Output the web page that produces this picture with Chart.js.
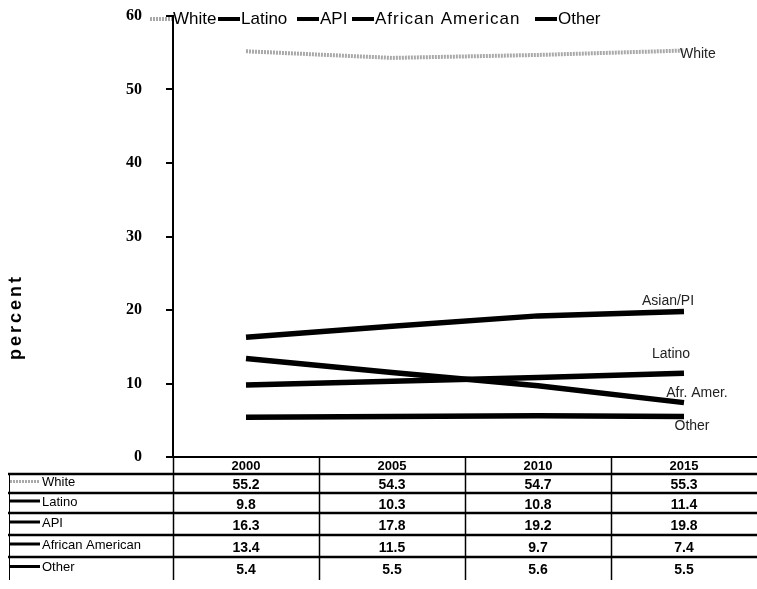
<!DOCTYPE html>
<html>
<head>
<meta charset="utf-8">
<script src="https://cdn.jsdelivr.net/npm/chart.js@4.4.1/dist/chart.umd.min.js"></script>
<style>
  html, body { margin: 0; padding: 0; background: #fff; }
  #wrap { width: 757px; height: 589px; }
</style>
</head>
<body>
<div id="wrap"><canvas id="c" width="757" height="589"></canvas></div>
<script>
// data (table values)
const years = ['2000', '2005', '2010', '2015'];
const seriesNames = ['White', 'Latino', 'API', 'African American', 'Other'];
const endLabels = ['White', 'Latino', 'Asian/PI', 'Afr. Amer.', 'Other'];
const white = [55.2, 54.3, 54.7, 55.3];
const latino = [9.8, 10.3, 10.8, 11.4];
const api = [16.3, 17.8, 19.2, 19.8];
const afrAmer = [13.4, 11.5, 9.7, 7.4];
const other = [5.4, 5.5, 5.6, 5.5];
const yTitle = 'percent';

const allValues = [white, latino, api, afrAmer, other];

// styling
const isHatched = [true, false, false, false, false];
const narrow = "'Liberation Sans Narrow', 'Arial Narrow', Arial, sans-serif";
const sans = "'Liberation Sans', Arial, sans-serif";

function strokeKey(ctx, x1, x2, y, hatched, w) {
    ctx.save();
    ctx.lineWidth = w;
    if (hatched) {
        ctx.strokeStyle = '#a9a9a9';
        ctx.setLineDash([2, 1]);
    } else {
        ctx.strokeStyle = '#000';
    }
    ctx.beginPath();
    ctx.moveTo(x1, y);
    ctx.lineTo(x2, y);
    ctx.stroke();
    ctx.restore();
}

// legend, end labels, data table, short y ticks and axis title
const overlay = {
    id: 'overlay',
    afterDraw(chart) {
        const ctx = chart.ctx;
        const xs = chart.scales.x;
        const ys = chart.scales.y;

        // short tick marks just left of the y axis
        ctx.save();
        ctx.strokeStyle = '#000';
        ctx.lineWidth = 2;
        ys.ticks.forEach(t => {
            const y = Math.round(ys.getPixelForValue(t.value));
            ctx.beginPath();
            ctx.moveTo(ys.right - 7, y);
            ctx.lineTo(ys.right, y);
            ctx.stroke();
        });
        ctx.restore();

        // legend along the top
        const legendX = [150, 218, 297, 352, 535];
        ctx.save();
        ctx.font = '17px ' + sans;
        ctx.fillStyle = '#000';
        ctx.textBaseline = 'middle';
        seriesNames.forEach((name, i) => {
            strokeKey(ctx, legendX[i], legendX[i] + 22, 19, isHatched[i], 4);
            ctx.letterSpacing = i === 3 ? '1px' : '0px';
            ctx.fillText(name, legendX[i] + 23, 19);
        });
        ctx.letterSpacing = '0px';
        ctx.restore();

        // labels at the line ends
        const off = [[-4, 4, 'left'], [-13, -19, 'center'], [-16, -10, 'center'], [13, -9, 'center'], [8, 10, 'center']];
        ctx.save();
        ctx.font = '14px ' + sans;
        ctx.fillStyle = '#222';
        ctx.textBaseline = 'middle';
        allValues.forEach((vals, i) => {
            const px = xs.getPixelForValue(3);
            const py = ys.getPixelForValue(vals[3]);
            ctx.textAlign = off[i][2];
            ctx.fillText(endLabels[i], px + off[i][0], py + off[i][1]);
        });
        ctx.restore();

        // data table
        const rowTop = [474, 493, 513, 535, 557];
        const tableBottom = 580;
        const half = (xs.getPixelForValue(1) - xs.getPixelForValue(0)) / 2;
        ctx.save();
        ctx.strokeStyle = '#000';
        // vertical rules
        ctx.lineWidth = 1.5;
        years.forEach((y, j) => {
            const x = Math.round(xs.getPixelForValue(j) - half) + 0.5;
            ctx.beginPath();
            ctx.moveTo(x, 458);
            ctx.lineTo(x, tableBottom);
            ctx.stroke();
        });
        ctx.lineWidth = 1;
        ctx.beginPath();
        ctx.moveTo(9.5, 474);
        ctx.lineTo(9.5, tableBottom);
        ctx.stroke();
        // horizontal rules
        ctx.lineWidth = 2.5;
        rowTop.forEach(t => {
            ctx.beginPath();
            ctx.moveTo(8, t);
            ctx.lineTo(757, t);
            ctx.stroke();
        });
        // header
        ctx.fillStyle = '#000';
        ctx.textAlign = 'center';
        ctx.textBaseline = 'middle';
        ctx.font = 'bold 13px ' + narrow;
        years.forEach((y, j) => ctx.fillText(y, xs.getPixelForValue(j), 466));
        // rows
        seriesNames.forEach((name, i) => {
            const top = rowTop[i];
            const bot = i < rowTop.length - 1 ? rowTop[i + 1] : tableBottom;
            const mid = (top + bot) / 2;
            strokeKey(ctx, 10, 40, mid - 2, isHatched[i], 3);
            ctx.textAlign = 'left';
            ctx.font = '13px ' + sans;
            ctx.fillText(name, 42, mid - 1);
            ctx.textAlign = 'center';
            ctx.font = 'bold 14px ' + narrow;
            allValues[i].forEach((v, j) => {
                ctx.fillText(v.toFixed(1), xs.getPixelForValue(j), mid + 2);
            });
        });
        ctx.restore();

        // rotated y title
        ctx.save();
        ctx.translate(16, 317);
        ctx.rotate(-Math.PI / 2);
        ctx.font = 'bold 18px ' + sans;
        ctx.letterSpacing = '3px';
        ctx.fillStyle = '#000';
        ctx.textAlign = 'center';
        ctx.textBaseline = 'middle';
        ctx.fillText(yTitle, 0, 0);
        ctx.letterSpacing = '0px';
        ctx.restore();
    }
};

const datasets = allValues.map((vals, i) => ({
    label: seriesNames[i],
    data: vals,
    borderColor: isHatched[i] ? '#a9a9a9' : '#000',
    borderWidth: isHatched[i] ? 4 : 5.5,
    borderDash: isHatched[i] ? [2, 1] : [],
    pointRadius: 0,
    tension: 0,
    fill: false
}));

new Chart(document.getElementById('c'), {
    type: 'line',
    data: { labels: years, datasets: datasets },
    options: {
        responsive: false,
        animation: false,
        devicePixelRatio: 1,
        layout: { padding: { top: 16, bottom: 124, left: 0, right: 0 } },
        plugins: { legend: { display: false }, tooltip: { enabled: false } },
        scales: {
            x: {
                offset: true,
                ticks: { display: false },
                grid: { display: false },
                border: { display: true, color: '#000', width: 2 }
            },
            y: {
                min: 0,
                max: 60,
                ticks: {
                    stepSize: 10,
                    padding: 3,
                    color: '#000',
                    font: { family: "'Liberation Serif', 'Times New Roman', serif", size: 16, weight: 'bold' }
                },
                // long, invisible tick length keeps the labels well left of the axis
                grid: { drawOnChartArea: false, tickColor: 'rgba(0,0,0,0)', tickLength: 28 },
                border: { display: true, color: '#000', width: 2 },
                afterFit(scale) { scale.width = 173; }
            }
        }
    },
    plugins: [overlay]
});
</script>
</body>
</html>
